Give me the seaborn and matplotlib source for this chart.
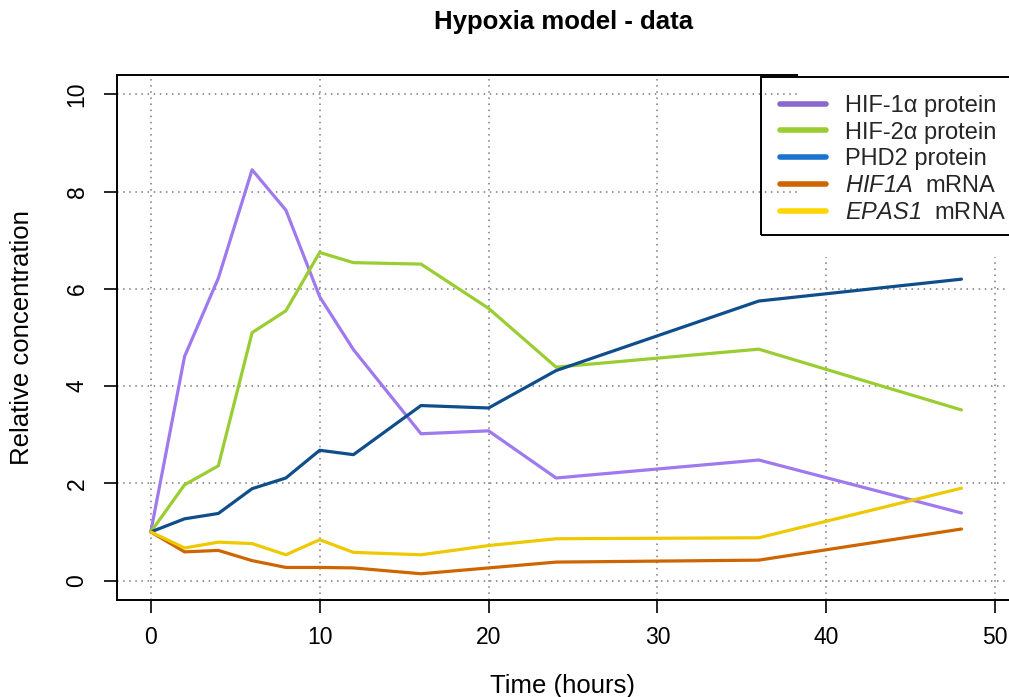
import matplotlib
matplotlib.use("Agg")
import matplotlib.pyplot as plt
from matplotlib.lines import Line2D
from matplotlib.patches import Rectangle
import numpy as np
import pandas as pd
import seaborn as sns

# Time points (hours)
time_h = [0, 2, 4, 6, 8, 10, 12, 16, 20, 24, 36, 48]

# Relative concentrations
hif1a_protein = [1.0, 4.61, 6.22, 8.45, 7.62, 5.84, 4.75, 3.02, 3.08, 2.11, 2.48, 1.39]
hif2a_protein = [1.0, 1.97, 2.36, 5.10, 5.55, 6.75, 6.54, 6.51, 5.60, 4.39, 4.76, 3.51]
phd2_protein = [1.0, 1.27, 1.38, 1.89, 2.11, 2.68, 2.59, 3.60, 3.55, 4.32, 5.75, 6.20]
hif1a_mrna = [1.0, 0.59, 0.62, 0.41, 0.27, 0.27, 0.26, 0.14, 0.26, 0.38, 0.42, 1.06]
epas1_mrna = [1.0, 0.67, 0.79, 0.76, 0.53, 0.84, 0.58, 0.53, 0.72, 0.86, 0.88, 1.90]

series_names = ["HIF-1a protein", "HIF-2a protein", "PHD2 protein", "HIF1A mRNA", "EPAS1 mRNA"]
# gene symbols are set in italics (math roman font is mapped to italic below)
legend_labels = ["HIF-1\u03b1 protein", "HIF-2\u03b1 protein", "PHD2 protein",
                 r"$\mathrm{HIF1A}$  mRNA", r"$\mathrm{EPAS1}$  mRNA"]
line_colors = ["#9F79EE", "#9ACD32", "#104E8B", "#CD6600", "#EEC900"]
legend_colors = ["#8968CD", "#9ACD32", "#1874CD", "#CD6600", "#FFD700"]

x_ticks = [0, 10, 20, 30, 40, 50]
y_ticks = [0, 2, 4, 6, 8, 10]

df = pd.DataFrame({
    "time": time_h * 5,
    "value": hif1a_protein + hif2a_protein + phd2_protein + hif1a_mrna + epas1_mrna,
    "series": np.repeat(series_names, len(time_h)),
})

sns.set_theme(style="white")
plt.rcParams["font.family"] = ["Liberation Sans", "DejaVu Sans"]
plt.rcParams["mathtext.fontset"] = "custom"
plt.rcParams["mathtext.rm"] = "Liberation Sans:italic"
plt.rcParams["mathtext.it"] = "Liberation Sans:italic"

W, H = 1009, 697
fig = plt.figure(figsize=(W / 100, H / 100), dpi=100)
# plot region (the right part runs past the figure edge)
left, right, top, bottom = 117, 1029, 75, 600
ax = fig.add_axes([left / W, (H - bottom) / H, (right - left) / W, (bottom - top) / H])

sns.lineplot(data=df, x="time", y="value", hue="series", hue_order=series_names,
             palette=line_colors, linewidth=2.3, sort=False, estimator=None,
             legend=False, ax=ax, zorder=3)

ax.set_xlim(-2, 52)
ax.set_ylim(-0.4, 10.4)
ax.set_xticks(x_ticks)
ax.set_yticks(y_ticks)
ax.set_xticklabels([str(v) for v in x_ticks])
ax.set_yticklabels([str(v) for v in y_ticks], rotation=90, va="center")

for v in x_ticks:
    ax.axvline(v, color="#7a7a7a", lw=1.1, ls=(0, (1, 3)), zorder=1)
for v in y_ticks:
    ax.axhline(v, color="#7a7a7a", lw=1.1, ls=(0, (1, 3)), zorder=1)

for side in ["left", "bottom", "top"]:
    ax.spines[side].set_visible(True)
    ax.spines[side].set_color("black")
    ax.spines[side].set_linewidth(1.4)
ax.spines["right"].set_visible(False)

ax.tick_params(axis="both", which="major", direction="out", length=9.5, width=1.2,
               color="black", labelsize=16.5, labelcolor="black",
               bottom=True, left=True)
ax.tick_params(axis="x", pad=9)
ax.tick_params(axis="y", pad=11)

ax.set_xlabel("Time (hours)", fontsize=18.5, color="black")
ax.set_ylabel("Relative concentration", fontsize=18.5, color="black")
ax.xaxis.set_label_coords((563 - left) / (right - left), (bottom - 686) / (bottom - top),
                          transform=ax.transAxes)
ax.yaxis.set_label_coords((22 - left) / (right - left), 0.5, transform=ax.transAxes)
ax.xaxis.label.set_va("center")
ax.yaxis.label.set_va("center")

# blank panel behind the legend at the upper right
ax.add_patch(Rectangle((38.35, 6.65), 20, 5, facecolor="white", edgecolor="none",
                       zorder=4, clip_on=False))

# legend frame
fig.patches.append(Rectangle((761 / W, 1 - 235 / H), (1015 - 761) / W, (235 - 77) / H,
                             transform=fig.transFigure, facecolor="none",
                             edgecolor="black", linewidth=1.4, zorder=9))

handles = [Line2D([0], [0], color=c, lw=4, solid_capstyle="round") for c in legend_colors]
leg = fig.legend(handles, legend_labels, loc="upper left",
                 bbox_to_anchor=(780 / W, 1 - 95 / H), fontsize=17,
                 frameon=False, handlelength=1.95, handletextpad=0.8,
                 labelspacing=0.2, borderpad=0, borderaxespad=0)
leg.set_zorder(10)

fig.text(564 / W, 1 - 22 / H, "Hypoxia model - data", ha="center", va="center",
         fontsize=18.5, fontweight="bold", color="black")

fig.savefig("out.png", dpi=100, facecolor="white")
